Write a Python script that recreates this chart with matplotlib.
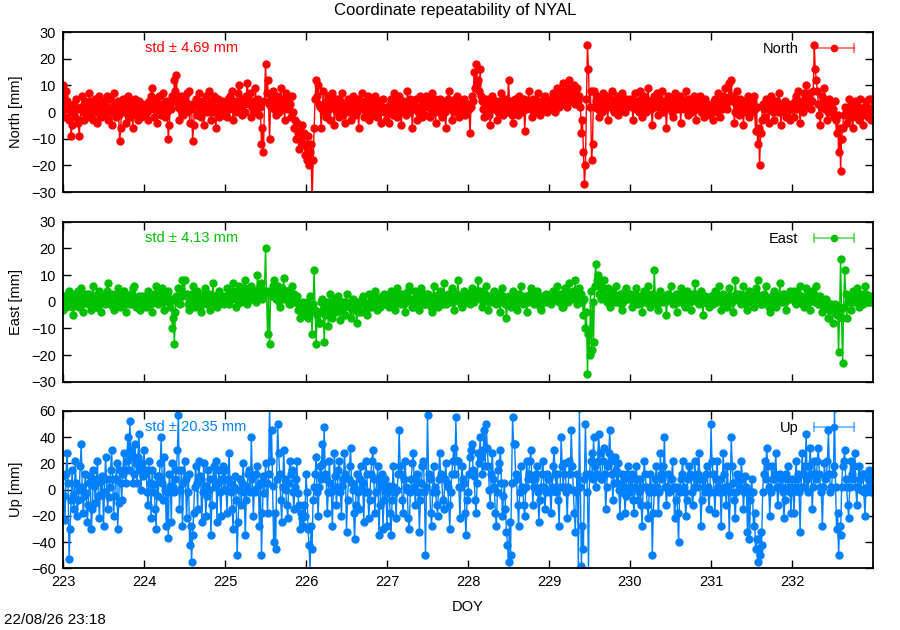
import matplotlib
matplotlib.use("Agg")
import matplotlib.pyplot as plt
from matplotlib.lines import Line2D
from matplotlib.legend_handler import HandlerLine2D
import numpy as np

plt.rcParams['font.family'] = ['Liberation Sans', 'DejaVu Sans']

# epochs: DOY 223 .. 233, 80 solutions per day (18 min)
doy_start = 223.0
per_day = 80

# North residuals [mm], two rows per day
north = [
    10, 6, -2, 8, 4, 1, -3, 2, -9, -5, 0, 3, -2, 5, 1, -4, -9, -3, 2, 6, 0, -3, 4, 1, -2, 3, 7, 2, -1, 4, -3, 0, 5, 2, -4, 1, 6, 3, -2, 0,
    4, -1, 2, 6, -3, 1, 5, 0, -5, 2, 7, 3, -2, 1, 4, -1, -11, -6, 2, 5, 0, 3, -4, 1, 6, 2, -2, 4, 0, -6, 3, 5, -1, 2, -3, 4, 1, -2, 3, 0,
    2, -1, 3, 0, -3, 4, 1, 6, 9, 3, -2, 1, 5, -4, 2, 6, 0, -1, 3, 7, 1, -2, 4, 0, -10, -5, 3, 1, 6, 4, 12, 8, 14, 5, 2, -3, 1, 6, 3, -1,
    4, 0, 7, 2, 8, -4, 1, 3, -11, -5, 2, 5, -1, 3, 7, 0, -2, 4, 1, -5, 3, 6, 0, 2, 8, 1, -3, 4, 0, 6, 2, -6, 1, 5, -2, 3, 0, 4, -1, 2,
    3, 0, -2, 5, 1, 6, 2, 8, -3, 1, 4, 0, 3, 7, 10, 4, 2, -1, 5, 3, 0, 6, 11, 5, 3, 7, -2, 2, 4, 0, 9, 3, 1, 5, -1, 2, -12, -6, -15, 4,
    18, 7, 12, 3, -10, 2, 5, 8, 1, 4, -1, 6, 3, 0, 2, 9, 5, 1, 4, -3, 7, 2, 1, 5, 3, -2, 6, 0, -6, -3, -10, -4, -8, -14, -7, -10, -5, -12, -8, -16,
    -12, -18, -9, -20, -15, -12, -35, -18, -6, 5, 12, 6, 10, 3, 2, -6, 1, 8, 3, 0, -2, 4, 6, 1, -3, 2, 7, 4, -5, 1, 3, 5, 0, -2, 4, 2, 7, -1, 3, -4,
    2, 5, 0, 3, -3, 1, 6, 2, -1, 4, 0, 5, -6, 2, 3, 7, 1, -2, 4, 0, 3, 6, -3, 1, 2, 5, -1, 3, 6, 0, -2, 4, 1, 3, -4, 2, 5, 0, 1, -3,
    2, 0, -4, 3, 5, 1, -1, 7, 4, 0, -2, 3, 6, 2, -5, 1, 4, 0, 3, -1, 8, 2, 0, 5, 3, -6, 1, 4, 2, 5, -3, 0, 2, 6, 1, -2, 4, 3, -1, 6,
    2, 4, -2, 1, 7, 3, 0, 5, -4, 2, 3, 0, 5, 1, -2, 4, 2, 0, -6, 3, 5, 8, 2, 1, -3, 4, 0, 5, 2, 6, 1, -2, 3, 0, 4, 2, 5, -1, 3, 1,
    3, 1, -8, 2, 6, 4, 15, 9, 18, 11, 12, 8, 16, 6, 4, 1, -2, 3, 5, 0, 2, -1, -5, 3, 6, 2, 1, 4, 3, -3, 0, 4, 2, 7, 1, -1, 3, 5, 0, 2,
    12, 4, 2, -1, -4, 3, 5, 1, 3, -1, 6, 2, 4, 0, 2, 5, -7, 1, 4, 3, 8, 2, 1, -2, 5, 3, 0, 4, 3, 7, 2, -1, 4, 1, 2, 5, 6, 3, 0, 4,
    4, 2, 1, 5, 7, 3, 0, 6, 9, 4, 2, 6, 5, 8, 11, 3, 7, 5, 2, 9, 12, 6, 4, 8, 5, 10, 3, 7, 9, 4, 6, 2, -8, -3, -15, -27, -20, 5, 25, 16,
    2, 8, -18, -12, 8, 2, 4, 6, 1, -2, 5, 3, 0, 7, 4, 1, 6, 3, -3, 4, 5, 2, 8, 1, 0, 4, 3, 6, -1, 2, 5, 4, 7, 1, 3, 0, 5, 2, 4, 3,
    5, 3, 2, -3, 4, 7, 1, 3, 4, 0, 8, 5, -2, 2, 6, 3, 0, 4, 9, 2, 4, 1, -5, 3, 6, 2, 4, 7, -1, 5, 3, 2, 8, 0, 4, 1, -6, 3, 6, 2,
    5, 0, -2, 4, 7, 3, 1, 5, 3, 6, -4, 2, 4, 1, 2, 8, 3, -1, 5, 2, 3, 0, 4, 6, 1, -3, 5, 3, 2, 6, 0, 4, 3, -2, 5, 1, 3, 0, 2, -1,
    2, 0, -3, 4, 5, 1, 0, 7, 3, -2, 4, 1, 6, 2, 9, 3, 1, 5, 11, 6, 12, 4, 6, -4, 0, 3, 8, 2, -1, 5, 2, 4, -5, 1, 4, 0, 2, 6, -2, 3,
    0, 4, 6, 1, -7, 2, -12, -6, -20, -8, -3, 3, 1, -2, 5, 2, 1, -4, 3, 6, 2, 0, -3, 4, 1, 4, 0, 7, 2, -5, 1, 3, 0, 4, -2, 2, 3, 1, -3, 1,
    3, 1, -2, 4, 6, 1, 8, 3, -4, 2, 4, 0, 7, 5, 10, 3, 2, 7, 5, 1, 4, 8, 25, 16, 12, 8, 3, -1, -5, 2, 6, 4, 9, 1, 2, -3, 0, 5, 3, 0,
    1, -2, 4, -3, -8, -1, -15, -6, -22, -10, -6, -1, 2, 0, -4, 1, 5, -2, -1, 3, -6, 0, 4, -2, 0, 2, -3, 5, 1, -1, -5, 2, 0, 4, 2, -2, 5, 1, -3, 5,
]

# East residuals [mm]
east = [
    -3, 0, 2, -2, -1, 3, 4, 0, 0, -2, -5, 1, 3, 0, 1, 4, -2, 1, 5, -1, -4, 0, 2, 3, 0, -1, 3, 1, -3, 2, 6, 0, 1, -2, -2, 3, 4, 1, -4, 0,
    2, -1, 0, 4, 7, 2, -1, 1, 3, -2, -3, 0, 1, 3, 5, 2, -2, 0, 0, 3, 4, -1, -4, 1, 2, 0, -1, 3, 3, 5, 6, 1, -2, 0, 1, 2, -3, 0, 2, -1,
    1, 0, -2, 2, 4, 1, 0, -1, -4, 2, 3, 0, 6, 2, -1, 1, 2, 4, 5, 0, -3, 1, 1, 3, 4, 0, -2, 1, -10, -6, -16, -4, 2, 0, 5, 1, -1, 2, 8, 3,
    8, 2, 3, -1, -3, 0, 1, 3, 6, 1, -2, 2, 4, 0, 0, -2, -4, 1, 2, 3, 5, 0, -1, 2, 3, -3, 1, 0, 7, 2, 2, -1, -2, 1, 4, 0, 0, 2, 1, -1,
    2, 1, 5, 0, -1, 3, 3, 4, 7, 2, 1, -2, 4, 3, 6, 0, 0, 2, 3, 5, 8, 1, -1, 3, 5, 2, 6, 1, 1, 4, 4, 0, 10, 3, 3, 6, 7, 1, 2, 4,
    20, 4, -12, 3, -16, 2, 4, 6, 8, 3, 1, 5, 6, 0, -2, 3, 5, 2, 9, 1, 2, 4, 4, -1, -1, 2, 6, 3, 3, 0, 0, 2, -3, -1, -6, -2, -4, 0, -5, -2,
    -3, 0, -6, -2, 2, -4, -12, -1, 12, -3, -16, -5, -4, -8, -8, 0, 1, -3, -15, -5, -2, 0, -9, -4, 3, -1, -6, -2, -1, 1, -4, -3, 2, -2, -7, -1, -3, 0, 0, -5,
    3, -1, -2, 0, -6, -3, 1, -2, -3, 0, -8, -4, 0, -1, -4, 1, 2, 0, -1, -3, -5, -1, 3, 0, -2, 1, 0, 3, 4, 0, -3, 1, 1, -2, -1, 2, 0, 3, -1, 1,
    2, 0, -2, 1, 4, 2, 0, -1, -3, 2, 5, 0, 1, 3, -1, 2, 3, -1, -4, 1, 2, 4, 6, 1, 0, -2, -2, 1, 4, 3, 1, 0, -3, 2, 5, 1, 2, -1, -1, 3,
    3, 0, 0, -2, -4, 1, 6, 2, 2, 0, -2, 1, 4, 3, 1, -1, 7, 2, -1, 0, 3, 1, 0, 2, 5, 0, -3, 1, 2, 3, 8, 2, 1, -1, -2, 1, 4, 2, 2, 0,
    3, 1, -1, 2, 5, 0, 0, 3, 2, 4, 8, 2, 4, 1, -2, 0, 1, 3, 6, 1, -3, 0, 2, 1, 0, 3, 4, 1, -1, 0, 3, 2, -4, 1, 5, 2, 1, -1, -6, 0,
    2, 1, -2, 0, 4, 2, 0, -1, -3, 1, 3, 2, 6, 1, -1, 0, 2, 1, -4, 0, 1, 3, 5, 1, 0, -1, 3, 2, 4, 0, 1, -2, -3, 0, 2, 1, 0, 3, 2, 0,
    2, 0, -1, 3, 4, 1, 1, 2, 6, 3, 0, 2, 3, -2, -2, 1, 5, 3, 2, 0, 7, 3, 1, 2, 4, 3, 8, 2, -1, 1, 5, 3, 3, 0, -5, 1, -10, -4, -27, -12,
    -20, 4, -18, 0, -15, 6, 14, 8, 10, 3, 6, 1, 3, 5, 8, 2, 1, 0, 5, 2, -2, 1, 4, 3, 2, 0, 6, 2, 0, 1, 3, -1, -3, 0, 2, 4, 5, 1, 2, 3,
    3, 1, -2, 0, 1, 3, 5, 2, -1, 0, 2, 1, -4, 0, 4, 2, 0, 3, 6, 1, -2, 1, 3, 0, 12, 2, 1, -1, -3, 0, 4, 2, 0, 1, 2, 0, -5, 1, 3, 2,
    6, 1, -1, 0, 2, 3, -4, 0, 1, 2, 5, 3, 0, -1, -2, 1, 4, 2, 2, 0, -3, 1, 3, 2, 7, 3, 0, 1, -1, 0, 4, 2, -5, 0, 2, 1, 1, -1, -2, 0,
    2, 0, -1, 1, 4, 2, 0, 1, 6, 2, -3, 0, 3, 1, 1, 0, -2, 2, 5, 1, 2, 0, -4, 1, 8, 3, 1, 2, 3, 0, -1, 1, 6, 2, 0, -1, -3, 0, 4, 2,
    2, 0, -2, 1, 5, 3, 8, 2, 1, -1, -1, 1, 3, 2, 6, 1, 0, -2, -4, 0, 2, 1, 4, 2, -2, 0, 1, 2, 7, 1, 0, 3, 3, 0, -3, 1, 2, 1, 4, 2,
    1, 2, 4, 0, -1, 2, 3, 1, 6, 2, 0, -1, -2, 1, 5, 3, 2, 0, -3, 1, 4, 2, 1, 0, 6, 2, -1, 0, 2, 1, -4, -2, -2, 0, 1, -1, -6, -3, -3, -1,
    -8, -2, -1, -3, -5, -2, -19, -4, 16, -6, -23, -2, 12, 3, -6, 0, 2, 1, -3, 0, 4, 2, 0, 1, 5, 2, -2, 0, 1, 3, -1, 0, 6, 3, 2, 0, 0, 1, 2, 0,
]

# Up residuals [mm]
up = [
    10, -5, -23, 12, 28, 5, -53, -30, -8, 15, -4, -15, 22, 5, -20, -8, 0, 18, 35, 2, -18, -5, 12, -3, -25, -12, 5, 10, -30, -15, 15, 3, -10, 8, 22, -5, -22, 6, -4, 10,
    -28, -2, 25, 8, -15, -6, 2, 15, 30, 8, -20, -5, 8, 20, -30, -10, 15, 5, -8, 12, 28, 15, 5, 22, 40, 15, 52, 30, 25, 5, 12, 35, 20, 5, 25, 42, 15, 0, 20, 10,
    30, 12, 15, -2, -12, 22, 5, -22, 15, -2, 4, -15, -30, 10, -5, 10, 20, 40, 5, -8, 25, 0, -28, -2, -37, 12, 3, -25, 20, 2, -2, 8, 15, 30, 57, -15, 0, 15, -28, 5,
    22, 8, -22, -2, 12, -42, -28, -55, -35, -18, 2, 18, 5, -15, 22, 10, 8, -25, -2, 20, 3, -20, -5, 15, 0, 8, -35, -12, 8, 18, 2, 22, -25, 5, 15, -2, -20, 8, 18, 0,
    15, 0, -18, 8, 28, 5, -2, -15, -30, 2, 10, -8, -50, -25, 0, 8, -12, 5, 20, -2, -35, -8, 3, 12, 15, -2, 40, 8, -20, 0, -2, 12, 18, 3, -28, 5, -50, -18, 10, -3,
    20, 5, -18, 12, 65, 22, 45, 3, -40, -18, -45, 8, 50, 28, 12, -8, -25, 2, 30, 8, 0, -12, -22, 5, 22, 12, 15, -2, -15, 2, 8, 22, -3, -12, -30, -18, -22, -28, -12, -20,
    12, -2, -30, -42, -62, -28, -45, -8, 2, 12, 25, -2, -20, 2, 18, 8, 35, 20, 48, 12, 8, -18, -2, 22, 5, -2, -28, 0, 28, 10, -12, 2, 15, 22, -2, -20, 3, 8, 28, 12,
    -32, -8, 8, 18, 32, 5, 0, -18, -38, -12, 12, -2, -15, 8, 18, 2, 5, -25, -2, 22, 12, -2, -22, -8, 12, 22, 30, 8, -18, -2, 8, 18, -35, -12, 3, 12, -30, -8, 8, -2,
    -28, -2, 3, -18, -35, -8, 18, 2, -2, -22, 0, 12, 45, 18, 12, -8, -18, 8, 22, 2, 0, -22, -30, -2, 8, 20, 28, 2, -12, 8, 12, -2, -32, -8, 5, 18, 22, -2, -50, 2,
    57, 12, 8, -18, -28, -2, 18, 2, -2, -12, -20, 8, 28, 12, 10, -8, -15, 8, 20, 5, 2, -12, -30, -2, 12, 22, 32, 12, 55, 22, 22, 2, -22, 2, 18, 8, 5, -18, -35, -8,
    -2, 12, 25, 30, 35, 15, 10, -8, -18, 5, 28, 20, 40, 25, 12, 30, 45, 18, 50, 32, 18, 0, -12, 12, 28, 8, 2, -18, -28, -2, 15, 20, 30, 5, -20, -5, 5, -15, -32, -42,
    -55, -25, -50, 5, 55, 35, 35, 12, 8, -12, -28, -2, 18, 2, 0, -12, -20, 2, 22, 8, 12, 22, 30, 8, -12, 2, 8, 12, 18, -2, -25, -8, 2, 12, 22, 2, -15, -2, 12, 8,
    8, -2, -18, 2, 18, 30, 12, -2, 12, -8, -28, 2, 40, 18, 2, 12, 20, -2, -22, 2, 22, 12, 45, 18, 0, -18, -32, -2, 12, -62, 62, 2, -58, -28, -45, 8, 50, 12, -2, -62,
    12, 22, 28, 8, 40, 18, 2, 12, 22, 42, 28, 8, 8, 22, 32, 12, -15, 2, 18, 28, 45, 22, 12, -8, 5, 25, 15, 5, 20, 0, -20, -2, 12, 2, 8, -18, -5, 12, 18, 2,
    -2, 8, 12, -8, -18, 2, 18, 8, -8, -2, 8, -12, -28, 2, 22, 12, 2, -12, -22, -2, 12, 2, -50, -18, -2, 8, 18, 2, -18, -2, 28, 12, 8, 18, 40, 2, -12, 2, 12, -2,
    0, 8, 22, 2, -22, -8, 2, -18, -40, -2, 8, 12, 22, 2, -2, -20, -8, 8, 18, 12, 10, -2, -12, 2, 22, 8, 2, 12, 28, 8, -28, -8, 8, 2, -2, 12, 18, 2, -15, -2,
    50, 22, 12, -2, -18, 8, 22, 2, -2, 8, -28, -2, 28, 12, 2, -12, 18, 2, -35, -2, 40, 18, 5, -8, -22, -2, 12, 8, 0, 2, 22, 8, -15, -2, 10, 2, -32, -2, -38, -8,
    8, -2, -28, -18, -45, -38, -55, -45, -50, -32, -42, -2, 12, 22, 8, 32, 18, 2, -20, -2, 18, 8, 8, 12, 28, 2, -12, 2, 12, 8, 2, -2, -22, -8, 12, 8, 18, 2, -2, -18,
    8, -2, -18, 2, 22, 8, 12, -2, -32, 2, 28, 12, 2, 18, 42, 8, -2, 18, 32, 12, -15, 2, 22, 12, 8, 22, 32, 12, 2, -2, -28, 2, 20, 8, 10, 22, 45, 12, -2, 2,
    12, 18, 62, 2, -30, -18, -50, -28, -35, 2, 18, 22, 30, 8, 2, -12, -22, 2, 22, 12, 8, 18, 28, 2, -12, 2, 18, 8, 0, 12, 12, -2, -20, -2, 2, 8, 15, 2, -2, 12,
]

components = ["North", "East", "Up"]
colors = ["#ff0000", "#00c000", "#0080ff"]
std_text = ["std \u00b1 4.69 mm", "std \u00b1 4.13 mm", "std \u00b1 20.35 mm"]
ylims = [(-30, 30), (-30, 30), (-60, 60)]
yticks = [np.arange(-30, 31, 10), np.arange(-30, 31, 10), np.arange(-60, 61, 20)]
xticks = np.arange(223, 233)

fig = plt.figure(figsize=(9, 6.3), dpi=100)
# axes boxes in figure fraction (left, bottom, width, height)
boxes = [(0.07, 0.695, 0.9, 0.254), (0.07, 0.394, 0.9, 0.254), (0.07, 0.098, 0.9, 0.25)]

for i, (name, vals) in enumerate(zip(components, [north, east, up])):
    ax = fig.add_axes(boxes[i])
    t = doy_start + np.arange(len(vals)) / per_day
    c = colors[i]
    ax.plot(t, vals, color=c, lw=1.0, marker='o', ms=5, mec=c, mfc=c)
    ax.set_xlim(223, 233)
    ax.set_ylim(*ylims[i])
    ax.set_yticks(yticks[i])
    ax.set_xticks(xticks)
    ax.tick_params(direction='in', top=True, right=True, length=6, width=1,
                   labelsize=10.5, pad=5)
    for s in ax.spines.values():
        s.set_linewidth(1.3)
    if i < 2:
        ax.set_xticklabels([])
    else:
        ax.set_xlabel("DOY", fontsize=10.5, labelpad=8)
    ax.set_ylabel(name + " [mm]", fontsize=10.5)
    ax.yaxis.set_label_coords(-0.05, 0.5)
    ax.text(0.101, 0.9, std_text[i], color=c, fontsize=10.5,
            transform=ax.transAxes, va='center', ha='left')

    cap = Line2D([], [], color=c, lw=1.2, alpha=0.6, marker='|', ms=7, mew=1.2)
    dot = Line2D([], [], color=c, ls='none', marker='o', ms=4.5)
    ax.legend([(cap, dot)], [name], loc='upper right', frameon=False,
              markerfirst=False, handlelength=3.3, fontsize=10.5,
              borderaxespad=0.3, bbox_to_anchor=(0.994, 1.0),
              handler_map={cap: HandlerLine2D(numpoints=2),
                           dot: HandlerLine2D(numpoints=1)})

fig.text(0.506, 0.984, "Coordinate repeatability of NYAL", ha='center', va='center',
         fontsize=12)
fig.text(0.005, 0.004, "22/08/26 23:18", ha='left', va='bottom', fontsize=11)

fig.savefig("out.png", dpi=100)
